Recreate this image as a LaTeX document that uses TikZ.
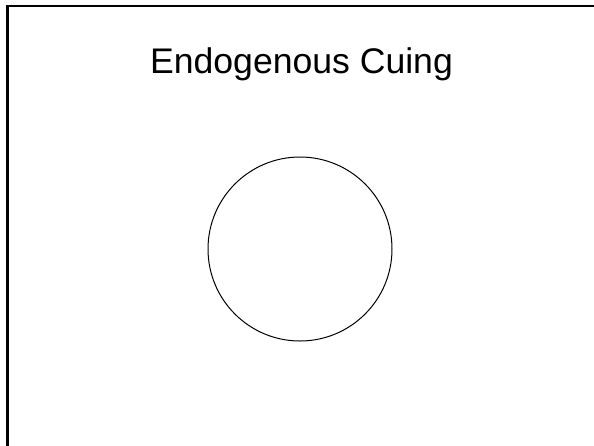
\documentclass[tikz,border=0pt]{standalone}
\usepackage{fontspec}
\setmainfont{Liberation Sans}
\begin{document}
\begin{tikzpicture}[x=1pt,y=-1pt,
  frameline/.style={line width=2.3pt, line cap=rect},
  ring/.style={circle, draw, line width=1pt, minimum size=184pt, inner sep=0pt},
  titletext/.style={anchor=base, font=\fontsize{35.6}{40}\selectfont, inner sep=0pt}]
\useasboundingbox (0,0) rectangle (594,445);
\clip (0,0) rectangle (594,445);
\coordinate (fbl) at (7.5,460);
\coordinate (ftl) at (7.5,6);
\coordinate (ftr) at (610,6);
\draw[frameline] (fbl) -- (ftl) -- (ftr);
\node[titletext] (title) at (301.5,73) {Endogenous Cuing};
\node[ring] (circ) at (300,249) {};
\end{tikzpicture}
\end{document}
